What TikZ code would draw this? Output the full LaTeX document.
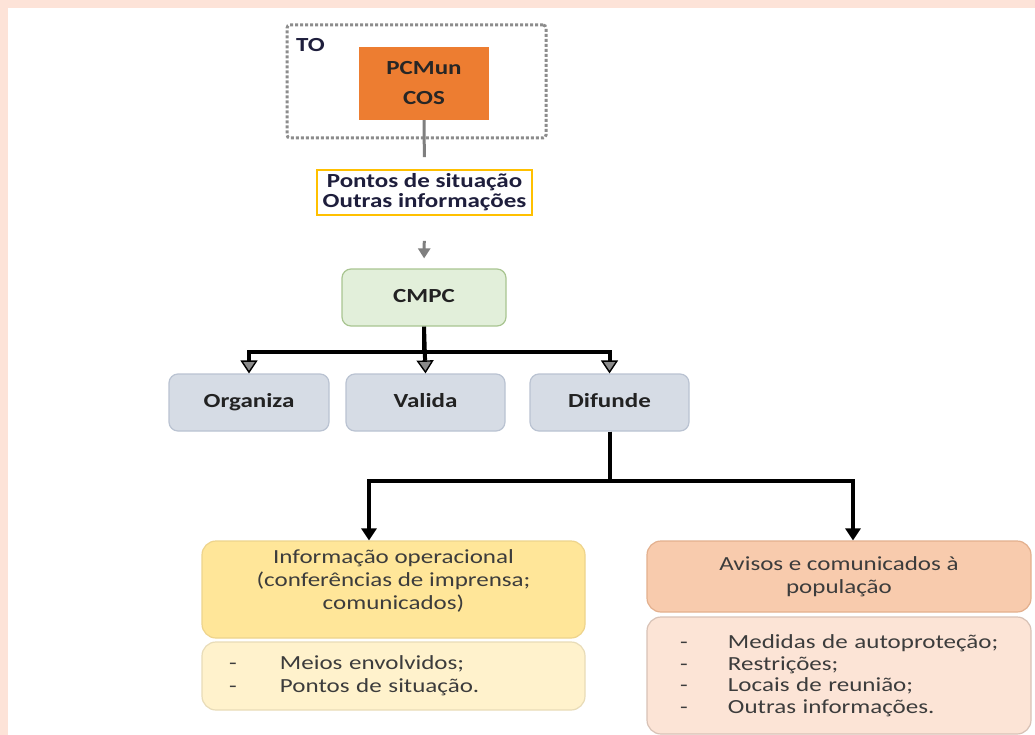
\documentclass[tikz,border=0pt]{standalone}
\usepackage{fontspec}
\setmainfont{Carlito}[FakeStretch=1.25]
\usetikzlibrary{arrows.meta}

\definecolor{pagepeach}{HTML}{FDE3D8}
\definecolor{pcorange}{HTML}{ED7D31}
\definecolor{dotgray}{HTML}{8C8C8C}
\definecolor{goldline}{HTML}{FFC000}
\definecolor{navytxt}{HTML}{1E1E3C}
\definecolor{darktxt}{HTML}{222222}
\definecolor{softtxt}{HTML}{3C3C3C}
\definecolor{greenfill}{HTML}{E2EFDA}
\definecolor{greenline}{HTML}{A9C591}
\definecolor{bluefill}{HTML}{D6DCE5}
\definecolor{blueline}{HTML}{BAC3D2}
\definecolor{yelfill}{HTML}{FFE699}
\definecolor{yelline}{HTML}{EED48C}
\definecolor{paleyel}{HTML}{FFF2CC}
\definecolor{paleyelline}{HTML}{E8DCB8}
\definecolor{salmon}{HTML}{F8CBAD}
\definecolor{salmonline}{HTML}{E3B08E}
\definecolor{palesalmon}{HTML}{FCE4D6}
\definecolor{palesalmonline}{HTML}{D8C2B6}
\definecolor{linegray}{HTML}{7F7F7F}
\definecolor{tipgray}{HTML}{8A8A8A}

\newcommand\dashitem[2]{\makebox[#1][l]{-}#2}

\begin{document}
\begin{tikzpicture}[x=1pt,y=-1pt,
  boldtext/.style={font=\bfseries\fontsize{20}{24}\selectfont},
  plaintext/.style={font=\fontsize{20}{23}\selectfont, text=softtxt},
  smallbox/.style={draw=#1, rounded corners=9pt, line width=1.2pt, boldtext,
    text=darktxt, align=center, inner sep=0pt, text height=14pt, text depth=4pt},
  bigbox/.style={draw=#1, rounded corners=14pt, line width=1.2pt, plaintext,
    inner sep=0pt},
  grayconn/.style={draw=linegray, line width=3pt},
  blkconn/.style={draw=black, line width=4pt},
  splittip/.style={-{Triangle[width=17pt,length=13pt,fill=tipgray,line width=1.4pt]}},
  solidtip/.style={-{Triangle[width=15pt,length=12pt]}}
]
\useasboundingbox (0,0) rectangle (1035,735);
% page edge and white sheet
\fill[pagepeach] (0,0) rectangle (1035,735);
\fill[white] (8,8) rectangle (1035,735);

% TO frame with the PCMun / COS block
\node[draw=dotgray, line width=3pt, dash pattern=on 3pt off 2pt, rounded corners=3pt,
  minimum width=259pt, minimum height=113pt, inner sep=0pt] (tobox) at (416.5,81.5) {};
\node[boldtext, text=navytxt, anchor=west, inner sep=0pt] (toname) at (296,45) {TO};
\node[fill=pcorange, minimum width=130pt, minimum height=73pt, inner sep=0pt,
  boldtext, text=black!85, align=center, font=\bfseries\fontsize{20}{30}\selectfont]
  (pcmun) at (424,83.5) {PCMun\\COS};

% situation reports
\node[draw=goldline, line width=1.6pt, minimum width=215pt, minimum height=45pt,
  inner sep=0pt, align=center, text=navytxt,
  font=\bfseries\fontsize{20}{20}\selectfont]
  (pontos) at (424.5,192.5) {Pontos de situação\\Outras informações};

% CMPC and its three tasks
\node[smallbox=greenline, fill=greenfill, minimum width=164pt, minimum height=57pt]
  (cmpc) at (424,297.5) {CMPC};
\node[smallbox=blueline, fill=bluefill, minimum width=160pt, minimum height=57pt]
  (org) at (249,402.5) {Organiza};
\node[smallbox=blueline, fill=bluefill, minimum width=159pt, minimum height=57pt]
  (val) at (425.5,402.5) {Valida};
\node[smallbox=blueline, fill=bluefill, minimum width=159pt, minimum height=57pt]
  (dif) at (609.5,402.5) {Difunde};

% operational information
\node[bigbox=yelline, fill=yelfill, minimum width=383pt, minimum height=97pt,
  align=center]
  (info) at (393.5,589.5)
  {Informação operacional\\(conferências de imprensa;\\comunicados)\rule[-20pt]{0pt}{20pt}};
\node[bigbox=paleyelline, fill=paleyel, minimum width=383pt, minimum height=68pt,
  text width=367pt, inner xsep=8pt, align=left,
  font=\fontsize{20}{23}\selectfont]
  (infolist) at (393.5,676)
  {\hspace*{19pt}\dashitem{51pt}{Meios envolvidos;}\\
   \hspace*{19pt}\dashitem{51pt}{Pontos de situação.}};

% warnings to the population
\node[bigbox=salmonline, fill=salmon, minimum width=384pt, minimum height=71pt,
  align=center]
  (avisos) at (839,576.5) {Avisos e comunicados à\\população};
\node[bigbox=palesalmonline, fill=palesalmon, minimum width=384pt, minimum height=117pt,
  text width=368pt, inner xsep=8pt, align=left,
  font=\fontsize{20}{21.5}\selectfont]
  (avlist) at (839,675.5)
  {\hspace*{25pt}\dashitem{48pt}{Medidas de autoproteção;}\\
   \hspace*{25pt}\dashitem{48pt}{Restrições;}\\
   \hspace*{25pt}\dashitem{48pt}{Locais de reunião;}\\
   \hspace*{25pt}\dashitem{48pt}{Outras informações.}};

% connectors
\draw[grayconn, shorten >=12pt] (pcmun.south) -- (pontos.north);
\draw[grayconn, shorten <=25pt, shorten >=10pt,
  -{Triangle[width=12pt,length=10pt]}, color=linegray] (pontos.south) -- (cmpc.north);

\draw[blkconn, splittip] (cmpc.south) -- ++(0,25) -| (org.north);
\draw[blkconn, splittip] (cmpc.south) -- (val.north);
\draw[blkconn, splittip] (cmpc.south) -- ++(0,25) -| (dif.north);

\coordinate (jl) at (369,481);
\coordinate (jr) at (853,481);
\draw[blkconn, solidtip] (dif.south) -- (dif.south |- jl) -| (info.north -| jl);
\draw[blkconn, solidtip] (dif.south) -- (dif.south |- jr) -| (avisos.north -| jr);
\end{tikzpicture}
\end{document}
